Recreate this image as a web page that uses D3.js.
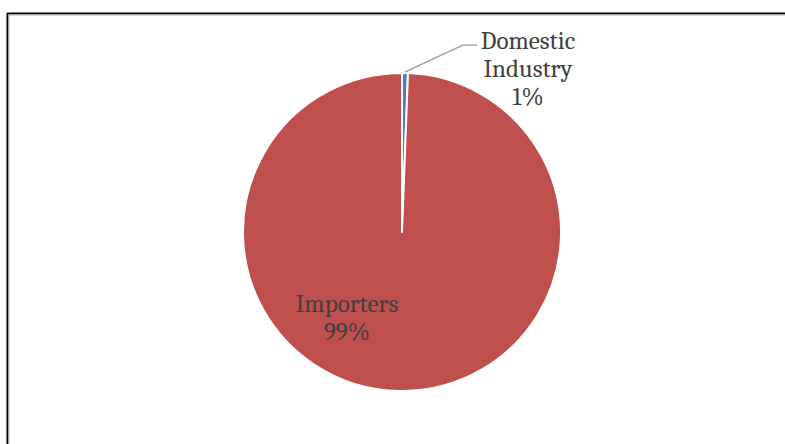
<!DOCTYPE html>
<html>
<head>
<meta charset="utf-8">
<script src="https://cdn.jsdelivr.net/npm/d3@7/dist/d3.min.js"></script>
<style>
  html, body { margin: 0; padding: 0; background: #fff; }
  svg { display: block; }
</style>
</head>
<body>
<svg id="chart" width="785" height="444"></svg>
<script>
// Share of total held by each party
const categories = ["Domestic Industry", "Importers"];
const shares = [0.6, 99.4];
const colors = ["#4F81BD", "#C0504D"];

const svg = d3.select("#chart");
const W = 785, H = 444;

// Chart frame: top and left edges
svg.append("line").attr("x1", 7).attr("x2", W).attr("y1", 13.5).attr("y2", 13.5)
  .attr("stroke", "#000").attr("stroke-width", 2);
svg.append("line").attr("x1", 7.5).attr("x2", 7.5).attr("y1", 13).attr("y2", H)
  .attr("stroke", "#000").attr("stroke-width", 2);
svg.append("line").attr("x1", 8).attr("x2", W).attr("y1", 15).attr("y2", 15)
  .attr("stroke", "#bbb").attr("stroke-width", 1);
svg.append("line").attr("x1", 9).attr("x2", 9).attr("y1", 15).attr("y2", H)
  .attr("stroke", "#bbb").attr("stroke-width", 1);

const cx = 402, cy = 232, r = 159;
const data = categories.map((c, i) => ({ name: c, value: shares[i], color: colors[i] }));
const total = d3.sum(shares);

const pie = d3.pie().value(d => d.value).sort(null);
const arc = d3.arc().innerRadius(0).outerRadius(r);
const arcs = pie(data);

const g = svg.append("g").attr("transform", `translate(${cx},${cy})`);
g.selectAll("path").data(arcs).join("path")
  .attr("d", arc)
  .attr("fill", d => d.data.color)
  .attr("stroke", "#fff")
  .attr("stroke-width", 2)
  .attr("stroke-linejoin", "round");

const pct = v => Math.round(v / total * 100) + "%";
const font = "Cambria, 'Liberation Serif', serif";
const fontSize = 25;

// Domestic Industry: leader line and label outside the pie
const dom = arcs[0];
const mid = (dom.startAngle + dom.endAngle) / 2;
const p0 = [cx + Math.sin(mid) * r, cy - Math.cos(mid) * r - 1];
const leader = [[p0[0], p0[1]], [463, 45], [477, 45]];
svg.append("path")
  .attr("d", d3.line()(leader))
  .attr("fill", "none").attr("stroke", "#A6A6A6").attr("stroke-width", 1.5);

const domLabel = svg.append("text")
  .attr("x", 528).attr("y", 48.5)
  .attr("text-anchor", "middle")
  .attr("font-family", font).attr("font-size", fontSize)
  .attr("fill", "#404040");
["Domestic", "Industry", pct(dom.data.value)].forEach((t, i) => {
  domLabel.append("tspan").attr("x", 528).attr("dy", i === 0 ? 0 : 28).text(t);
});

// Importers: label inside the slice
const imp = arcs[1];
const impLabel = svg.append("text")
  .attr("x", 347).attr("y", 312)
  .attr("text-anchor", "middle")
  .attr("font-family", font).attr("font-size", fontSize)
  .attr("fill", "#404040");
["Importers", pct(imp.data.value)].forEach((t, i) => {
  impLabel.append("tspan").attr("x", 347).attr("dy", i === 0 ? 0 : 28).text(t);
});
</script>
</body>
</html>
